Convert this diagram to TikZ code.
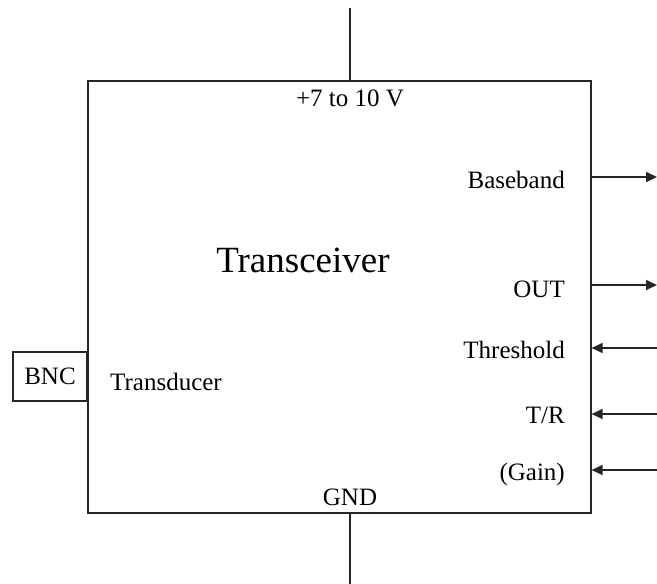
\documentclass[tikz,border=0pt]{standalone}
\usepackage{fontspec}
\setmainfont{Liberation Serif}
\usetikzlibrary{positioning,arrows.meta}

\begin{document}
\begin{tikzpicture}[x=1pt, y=-1pt,
    wire/.style={line width=1.6pt, draw=black!85},
    arr/.style={wire, -{Triangle[length=11pt, width=10pt]}},
    lbl/.style={inner sep=0pt, font=\fontsize{25}{29}\selectfont},
    rlbl/.style={lbl, anchor=east},
]
\useasboundingbox (0,0) rectangle (657,584);

% Main block
\node[wire, draw, minimum width=503pt, minimum height=432pt, anchor=north west, inner sep=0pt] (trx) at (87,80) {};
\node[inner sep=0pt, font=\fontsize{37}{42}\selectfont] (title) at (303,260) {Transceiver};

% Supply and ground
\coordinate (vtop) at (350,8);
\coordinate (vbot) at (350,584);
\draw[wire] (vtop) -- (vtop |- trx.north);
\draw[wire] (vbot |- trx.south) -- (vbot);
\node[lbl] (supply) at (350,98) {+7 to 10 V};
\node[lbl] (gnd) at (350,497) {GND};

% Connector
\node[wire, draw, minimum width=74pt, minimum height=49pt, inner sep=0pt, lbl] (bnc) at (50,376.5) {BNC};
\node[lbl, anchor=west] (xdcr) at (110,382) {Transducer};

% Outputs
\coordinate (bbout) at (657,177);
\coordinate (outout) at (657,285);
\draw[arr] (bbout -| trx.east) -- (bbout);
\draw[arr] (outout -| trx.east) -- (outout);
\node[rlbl] (bblbl) at (565,180) {Baseband};
\node[rlbl] (outlbl) at (565,289) {OUT};

% Inputs
\coordinate (thrin) at (657,348);
\coordinate (trin) at (657,414);
\coordinate (gainin) at (657,470);
\draw[arr] (thrin) -- (thrin -| trx.east);
\draw[arr] (trin) -- (trin -| trx.east);
\draw[arr] (gainin) -- (gainin -| trx.east);
\node[rlbl] (thrlbl) at (565,350) {Threshold};
\node[rlbl] (trlbl) at (565,415) {T/R};
\node[rlbl] (gainlbl) at (565,474) {(Gain)};
\end{tikzpicture}
\end{document}
